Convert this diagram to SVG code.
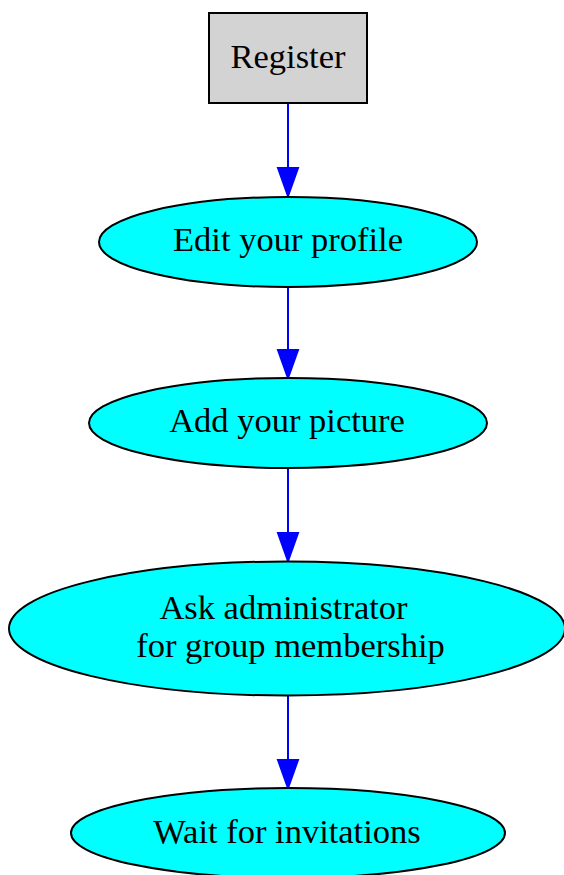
<svg xmlns="http://www.w3.org/2000/svg" width="564" height="875" viewBox="0 0 564 875">
  <defs>
    <style>
      .node-box { fill: #d3d3d3; stroke: #000; stroke-width: 2; }
      .node-ell { fill: #00ffff; stroke: #000; stroke-width: 2; }
      .label { font-family: "Liberation Serif", "Times New Roman", serif; font-size: 34.5px; fill: #000; text-anchor: middle; }
      .edge { stroke: #0000ff; stroke-width: 2; fill: none; }
      .head { fill: #0000ff; stroke: #0000ff; stroke-width: 2; }
    </style>
  </defs>
  <rect width="564" height="875" fill="#ffffff"/>

  <!-- connectors -->
  <g id="edges">
    <path class="edge" d="M288,103 L288,168"/>
    <polygon class="head" points="278,168 298,168 288,196"/>
    <path class="edge" d="M288,287 L288,350"/>
    <polygon class="head" points="278,350 298,350 288,378"/>
    <path class="edge" d="M288,467 L288,533"/>
    <polygon class="head" points="278,533 298,533 288,561"/>
    <path class="edge" d="M288,696 L288,760"/>
    <polygon class="head" points="278,760 298,760 288,788"/>
  </g>

  <g id="register">
    <rect class="node-box" x="209" y="13" width="158" height="90"/>
    <text class="label" x="288" y="68">Register</text>
  </g>

  <g id="edit-profile">
    <ellipse class="node-ell" cx="288" cy="242" rx="189" ry="45"/>
    <text class="label" x="288" y="251">Edit your profile</text>
  </g>

  <g id="add-picture">
    <ellipse class="node-ell" cx="288" cy="423" rx="199" ry="45"/>
    <text class="label" x="287" y="432">Add your picture</text>
  </g>

  <g id="ask-admin">
    <ellipse class="node-ell" cx="287" cy="628.5" rx="278" ry="67"/>
    <text class="label" x="283.5" y="619">Ask administrator</text>
    <text class="label" x="290.5" y="657">for group membership</text>
  </g>

  <g id="wait-invitations">
    <ellipse class="node-ell" cx="288" cy="833" rx="217" ry="45"/>
    <text class="label" x="287" y="843">Wait for invitations</text>
  </g>
</svg>
